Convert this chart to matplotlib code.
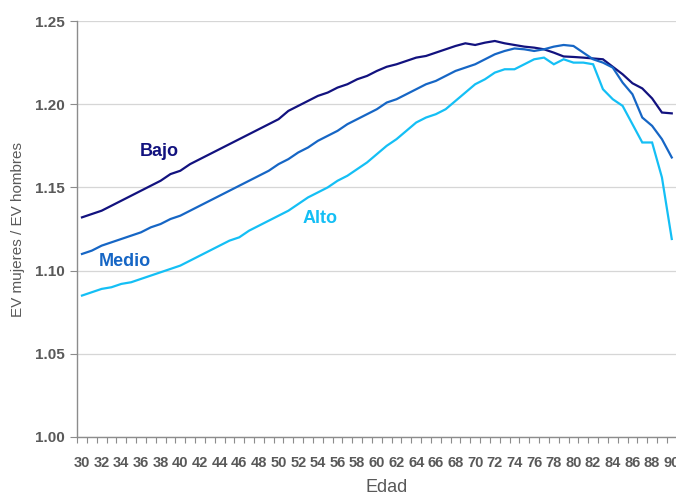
import numpy as np
import matplotlib
matplotlib.use("Agg")
import matplotlib.pyplot as plt
from matplotlib.ticker import FixedLocator, FixedFormatter

plt.rcParams["font.family"] = ["Liberation Sans", "DejaVu Sans"]

# Edades (categorias del eje x)
edades = list(range(30, 91))

# Cociente EV mujeres / EV hombres por nivel
bajo = [1.132, 1.134, 1.136, 1.139, 1.142, 1.145, 1.148, 1.151, 1.154, 1.158,
        1.160, 1.164, 1.167, 1.170, 1.173, 1.176, 1.179, 1.182, 1.185, 1.188,
        1.191, 1.196, 1.199, 1.202, 1.205, 1.207, 1.210, 1.212, 1.215, 1.217,
        1.220, 1.2225, 1.224, 1.226, 1.228, 1.229, 1.231, 1.233, 1.235, 1.2366,
        1.2356, 1.237, 1.238, 1.2366, 1.2356, 1.2346, 1.234, 1.233, 1.231, 1.2287,
        1.2284, 1.228, 1.2275, 1.227, 1.2225, 1.218, 1.2126, 1.2095, 1.2035, 1.195,
        1.1945]
medio = [1.110, 1.112, 1.115, 1.117, 1.119, 1.121, 1.123, 1.126, 1.128, 1.131,
         1.133, 1.136, 1.139, 1.142, 1.145, 1.148, 1.151, 1.154, 1.157, 1.160,
         1.164, 1.167, 1.171, 1.174, 1.178, 1.181, 1.184, 1.188, 1.191, 1.194,
         1.197, 1.201, 1.203, 1.206, 1.209, 1.212, 1.214, 1.217, 1.220, 1.222,
         1.224, 1.227, 1.230, 1.232, 1.2335, 1.233, 1.232, 1.233, 1.2346, 1.2356,
         1.235, 1.231, 1.227, 1.225, 1.222, 1.213, 1.206, 1.192, 1.187, 1.179,
         1.168]
alto = [1.085, 1.087, 1.089, 1.090, 1.092, 1.093, 1.095, 1.097, 1.099, 1.101,
        1.103, 1.106, 1.109, 1.112, 1.115, 1.118, 1.120, 1.124, 1.127, 1.130,
        1.133, 1.136, 1.140, 1.144, 1.147, 1.150, 1.154, 1.157, 1.161, 1.165,
        1.170, 1.175, 1.179, 1.184, 1.189, 1.192, 1.194, 1.197, 1.202, 1.207,
        1.212, 1.215, 1.219, 1.221, 1.221, 1.224, 1.227, 1.228, 1.224, 1.227,
        1.225, 1.225, 1.224, 1.209, 1.203, 1.199, 1.188, 1.177, 1.177, 1.156,
        1.119]

series = [("Bajo", bajo, "#12127F"), ("Medio", medio, "#1666C5"), ("Alto", alto, "#14BFF5")]
etiquetas = {"Bajo": (7.9, 1.1713), "Medio": (4.4, 1.1052), "Alto": (24.2, 1.1316)}

gris = "#595959"

fig = plt.figure(figsize=(6.76, 4.98), dpi=100)
ax = fig.add_axes([0.114, 0.1225, 0.887, 0.8353])

x = np.arange(len(edades))
for nombre, valores, color in series:
    ax.plot(x, valores, color=color, linewidth=1.6, solid_joinstyle="miter")
    tx, ty = etiquetas[nombre]
    ax.text(tx, ty, nombre, color=color, fontsize=13, fontweight="bold",
            ha="center", va="center")

ax.set_xlim(-0.5, len(edades) - 0.5)
ax.set_ylim(1.00, 1.25)

# Eje y
ax.set_yticks([1.00, 1.05, 1.10, 1.15, 1.20, 1.25])
ax.set_yticklabels(["1.00", "1.05", "1.10", "1.15", "1.20", "1.25"])
ax.yaxis.grid(True, color="#D6D6D6", linewidth=0.9)
ax.set_axisbelow(True)

# Eje x tipo categoria: marcas entre categorias, etiquetas cada 2 anos
ax.xaxis.set_major_locator(FixedLocator(x[::2]))
ax.xaxis.set_major_formatter(FixedFormatter([str(e) for e in edades[::2]]))
ax.xaxis.set_minor_locator(FixedLocator(np.arange(-0.5, len(edades), 1.0)))
ax.tick_params(axis="x", which="major", length=0, pad=14, labelsize=10.5)
ax.tick_params(axis="x", which="minor", length=4, width=0.8, color="#8C8C8C")
ax.tick_params(axis="y", which="major", length=5, width=0.8, color="#8C8C8C", pad=4,
               labelsize=11)
ax.tick_params(labelcolor=gris)
for lab in ax.get_xticklabels() + ax.get_yticklabels():
    lab.set_fontweight("bold")

for side in ["top", "right"]:
    ax.spines[side].set_visible(False)
for side in ["left", "bottom"]:
    ax.spines[side].set_color("#8C8C8C")
    ax.spines[side].set_linewidth(1.0)

ax.set_ylabel("EV mujeres / EV hombres", fontsize=11, color=gris)
ax.yaxis.set_label_coords(-0.087, 0.5)
ax.set_xlabel("Edad", fontsize=13, color=gris)
ax.xaxis.set_label_coords(0.517, -0.1)

fig.savefig("out.png", dpi=100)
